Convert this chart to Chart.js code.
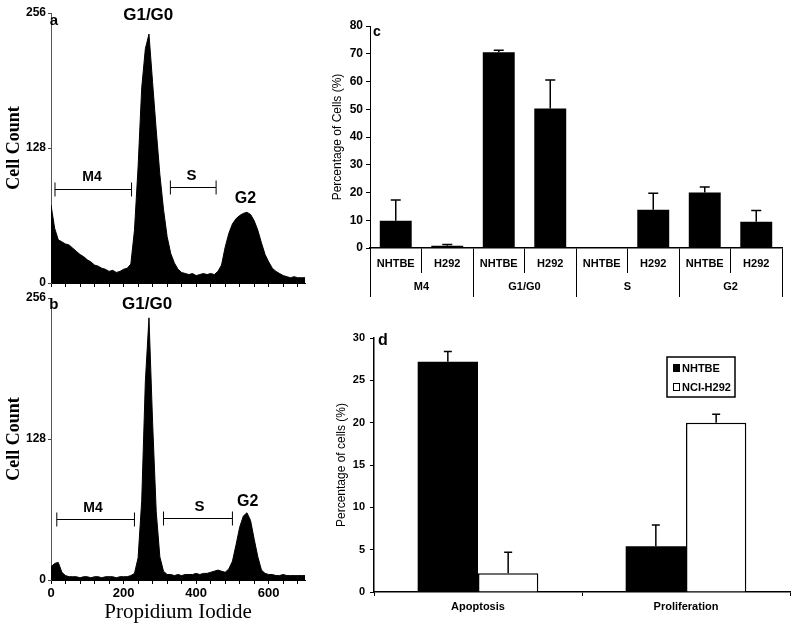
<!DOCTYPE html>
<html><head><meta charset="utf-8">
<script src="https://cdn.jsdelivr.net/npm/chart.js@4.4.1/dist/chart.umd.min.js"></script>
<style>
html,body{margin:0;padding:0;background:#fff;width:800px;height:629px;overflow:hidden;position:relative}
canvas{position:absolute}
</style></head><body>
<canvas id="ca" style="left:0px;top:0px" width="310" height="296"></canvas>
<canvas id="cb" style="left:0px;top:286px" width="310" height="343"></canvas>
<canvas id="cc" style="left:330px;top:0px" width="470" height="300"></canvas>
<canvas id="cd" style="left:330px;top:300px" width="470" height="329"></canvas>
<script>
// ---------- data ----------
const piBins = [0,10,20,30,40,50,60,70,80,90,100,110,120,130,140,150,160,170,180,190,200,210,220,230,240,250,260,270,280,290,300,310,320,330,340,350,360,370,380,390,400,410,420,430,440,450,460,470,480,490,500,510,520,530,540,550,560,570,580,590,600,610,620,630,640,650,660,670,680,690,700];
const countsA = [74,52,41,39,37,36,33,30,27,25,22,20,17,16,14,13,11,12,10,11,13,14,18,50,110,185,222,236,190,145,103,70,44,28,19,13,10,9,8,9,7,8,9,8,9,8,11,17,34,47,56,61,64,66,67,65,59,50,38,27,20,14,11,9,7,6,5,6,5,5,5];
const countsB = [12,15,16,7,4,3,3,3,2,3,3,2,3,3,2,3,3,3,2,3,3,3,4,6,20,72,180,238,143,62,21,8,5,5,4,5,4,5,5,5,6,5,6,6,7,8,9,8,7,10,17,32,48,58,61,54,37,21,9,6,5,5,4,4,5,4,4,4,4,4,4];
const countTicks = [0,128,256];
const gateM4A = [11,222], gateSA = [329,455];
const gateM4B = [16,230], gateSB = [310,500];

const cellLines = ['NHTBE','H292','NHTBE','H292','NHTBE','H292','NHTBE','H292'];
const phaseGroups = ['M4','G1/G0','S','G2'];
const phasePct = [9.8,0.8,70.5,50.3,0.3,13.8,20.0,9.5];
const phasePctErr = [7.5,0.5,0.8,10.2,0,5.9,2.0,4.0];

const assays = ['Apoptosis','Proliferation'];
const nhtbePct = [27.2,5.4];
const nhtbeErr = [1.2,2.5];
const h292Pct = [2.2,20.0];
const h292Err = [2.5,1.0];

// ---------- common ----------
const SANS = '"Liberation Sans", Arial, sans-serif';
const SERIF = '"Liberation Serif", "Times New Roman", serif';
Chart.defaults.font.family = SANS;
Chart.defaults.color = '#000';
Chart.defaults.animation = false;
Chart.defaults.plugins.legend.display = false;
Chart.defaults.plugins.tooltip.enabled = false;

const gatePlugin = {
  id: 'gates',
  afterDatasetsDraw(chart, args, o) {
    const {ctx, scales: {x, y}} = chart;
    ctx.save();
    ctx.strokeStyle = '#000'; ctx.lineWidth = 1;
    (o.gates || []).forEach(g => {
      const x1 = x.getPixelForValue(g.range[0]), x2 = x.getPixelForValue(g.range[1]);
      const yy = Math.round(y.getPixelForValue(g.level)) + 0.5;
      ctx.beginPath();
      ctx.moveTo(x1, yy); ctx.lineTo(x2, yy);
      ctx.moveTo(x1, yy - 7); ctx.lineTo(x1, yy + 7);
      ctx.moveTo(x2, yy - 7); ctx.lineTo(x2, yy + 7);
      ctx.stroke();
    });
    ctx.fillStyle = '#000'; ctx.textAlign = 'center'; ctx.textBaseline = 'middle';
    (o.labels || []).forEach(t => {
      ctx.font = t.font;
      ctx.fillText(t.text, x.getPixelForValue(t.x), y.getPixelForValue(t.y));
    });
    ctx.restore();
  }
};

const textPlugin = {
  id: 'panelText',
  afterDraw(chart, args, o) {
    const ctx = chart.ctx;
    ctx.save();
    ctx.fillStyle = '#000'; ctx.textAlign = 'center'; ctx.textBaseline = 'middle';
    (o.items || []).forEach(t => { ctx.font = t.font; ctx.fillText(t.text, t.x, t.y); });
    ctx.restore();
  }
};

const errPlugin = {
  id: 'errBars',
  afterDatasetsDraw(chart, args, o) {
    const {ctx} = chart;
    const y = chart.scales.y;
    ctx.save();
    ctx.strokeStyle = '#000'; ctx.lineWidth = o.lineWidth || 1.5;
    chart.data.datasets.forEach((ds, di) => {
      if (!ds.errors) return;
      const meta = chart.getDatasetMeta(di);
      meta.data.forEach((bar, i) => {
        const e = ds.errors[i];
        if (!e) return;
        const top = y.getPixelForValue(ds.data[i] + e);
        ctx.beginPath();
        ctx.moveTo(bar.x, bar.y); ctx.lineTo(bar.x, top);
        ctx.moveTo(bar.x - o.cap, top); ctx.lineTo(bar.x + o.cap, top);
        ctx.stroke();
      });
    });
    ctx.restore();
  }
};

const boxLegend = {
  id: 'boxLegend',
  afterDraw(chart, args, o) {
    const {ctx} = chart;
    ctx.save();
    ctx.strokeStyle = '#000'; ctx.lineWidth = 1.5;
    ctx.strokeRect(o.x, o.y, o.w, o.h);
    ctx.font = 'bold 11px ' + SANS; ctx.textBaseline = 'middle'; ctx.textAlign = 'left';
    chart.data.datasets.forEach((ds, i) => {
      const yy = o.y + o.first + i * o.row;
      ctx.fillStyle = ds.backgroundColor;
      ctx.fillRect(o.x + 6, yy - 3.5, 7, 7);
      ctx.lineWidth = 1; ctx.strokeRect(o.x + 6.5, yy - 3.5, 6, 7);
      ctx.fillStyle = '#000';
      ctx.fillText(ds.label, o.x + 15, yy + 0.5);
    });
    ctx.restore();
  }
};

function histChart(id, counts, opts) {
  return new Chart(document.getElementById(id), {
    type: 'line',
    data: {
      datasets: [{
        data: piBins.map((b, i) => ({x: b, y: counts[i]})),
        fill: 'origin', backgroundColor: '#000', borderColor: '#000',
        borderWidth: 1, pointRadius: 0, tension: 0
      }]
    },
    options: {
      responsive: false, devicePixelRatio: 1,
      layout: {padding: {top: opts.padTop, right: 5, left: 0, bottom: 0}},
      scales: {
        x: {
          type: 'linear', min: 0, max: 700,
          grid: {drawOnChartArea: false, tickLength: 4, color: '#000'},
          border: {color: '#000', width: 1},
          ticks: {stepSize: 40, includeBounds: false, autoSkip: false, maxRotation: 0,
            padding: 2, font: {size: 13, weight: 'bold'}, color: '#000',
            callback: opts.xLabels ? (v => (v % 200 === 0 ? String(v) : '')) : (() => '')},
          title: opts.xLabels ? {display: true, text: 'Propidium Iodide', color: '#000',
            font: {family: SERIF, size: 21, weight: 'normal'}, padding: {top: 0, bottom: 4}} : {display: false},
          afterFit(s) { s.height = opts.xHeight; }
        },
        y: {
          min: 0, max: 256,
          afterBuildTicks(s) { s.ticks = countTicks.map(v => ({value: v})); },
          grid: {drawOnChartArea: false, tickLength: 3, color: '#444'},
          border: {color: '#555', width: 1},
          ticks: {font: {size: 12, weight: 'bold'}, color: '#000', padding: 2},
          title: {display: true, text: 'Cell Count', color: '#000',
            font: {family: SERIF, size: 18, weight: 'bold'}, padding: {top: 4, bottom: 0}},
          afterFit(s) { s.width = 51; }
        }
      },
      plugins: {gates: {gates: opts.gates, labels: opts.labels}}
    },
    plugins: [gatePlugin]
  });
}

histChart('ca', countsA, {
  padTop: 13, xHeight: 13, xLabels: false,
  gates: [{range: gateM4A, level: 89}, {range: gateSA, level: 91}],
  labels: [
    {text: 'a', x: 8, y: 249, font: 'bold 15px ' + SANS},
    {text: 'G1/G0', x: 268, y: 254, font: 'bold 17px ' + SANS},
    {text: 'M4', x: 113, y: 100, font: 'bold 14px ' + SANS},
    {text: 'S', x: 387, y: 102, font: 'bold 15px ' + SANS},
    {text: 'G2', x: 536, y: 80, font: 'bold 16px ' + SANS}
  ]
});

histChart('cb', countsB, {
  padTop: 12, xHeight: 49, xLabels: true,
  gates: [{range: gateM4B, level: 55}, {range: gateSB, level: 56}],
  labels: [
    {text: 'b', x: 8, y: 250, font: 'bold 15px ' + SANS},
    {text: 'G1/G0', x: 265, y: 250, font: 'bold 17px ' + SANS},
    {text: 'M4', x: 116, y: 65, font: 'bold 14px ' + SANS},
    {text: 'S', x: 409, y: 66, font: 'bold 15px ' + SANS},
    {text: 'G2', x: 542, y: 71, font: 'bold 16px ' + SANS}
  ]
});

// ---------- panel c ----------
new Chart(document.getElementById('cc'), {
  type: 'bar',
  data: {
    labels: cellLines,
    datasets: [{data: phasePct, errors: phasePctErr, backgroundColor: '#000', borderWidth: 0,
      categoryPercentage: 1, barPercentage: 0.62, xAxisID: 'x'}]
  },
  options: {
    responsive: false, devicePixelRatio: 1,
    layout: {padding: {top: 26, right: 18, bottom: 3, left: 0}},
    scales: {
      y: {
        min: 0, max: 80,
        ticks: {stepSize: 10, font: {size: 12, weight: 'bold'}, color: '#000', padding: 3},
        grid: {drawOnChartArea: false, tickLength: 4, color: '#000'},
        border: {color: '#000', width: 1},
        title: {display: true, text: 'Percentage of Cells (%)', color: '#000',
          font: {size: 12}, padding: {top: 0, bottom: 0}},
        afterFit(s) { s.width = 40; }
      },
      x: {
        type: 'category', offset: true, weight: 0,
        grid: {offset: true, drawOnChartArea: false, tickLength: 25, color: '#000'},
        border: {color: '#000', width: 1.5},
        ticks: {padding: -16, autoSkip: false, maxRotation: 0, font: {size: 11, weight: 'bold'}, color: '#000'},
        afterFit(s) { s.height = 25; }
      },
      x2: {
        type: 'category', labels: phaseGroups, position: 'bottom', offset: true, weight: 1,
        grid: {offset: true, drawOnChartArea: false, tickLength: 24, color: '#000'},
        border: {display: false},
        ticks: {padding: -17, autoSkip: false, maxRotation: 0, font: {size: 11, weight: 'bold'}, color: '#000'},
        afterFit(s) { s.height = 24; }
      }
    },
    plugins: {
      errBars: {cap: 5, lineWidth: 1.5},
      panelText: {items: [{text: 'c', x: 47, y: 32, font: 'bold 14px ' + SANS}]}
    }
  },
  plugins: [errPlugin, textPlugin]
});

// ---------- panel d ----------
new Chart(document.getElementById('cd'), {
  type: 'bar',
  data: {
    labels: assays,
    datasets: [
      {label: 'NHTBE', data: nhtbePct, errors: nhtbeErr, backgroundColor: '#000', borderColor: '#000', borderWidth: 0},
      {label: 'NCI-H292', data: h292Pct, errors: h292Err, backgroundColor: '#fff', borderColor: '#000', borderWidth: 1.5}
    ]
  },
  options: {
    responsive: false, devicePixelRatio: 1,
    layout: {padding: {top: 38, right: 10, bottom: 0, left: 0}},
    datasets: {bar: {categoryPercentage: 0.58, barPercentage: 1}},
    scales: {
      y: {
        min: 0, max: 30,
        ticks: {stepSize: 5, font: {size: 11, weight: 'bold'}, color: '#000', padding: 5},
        grid: {drawOnChartArea: false, tickLength: 4, color: '#000'},
        border: {color: '#000', width: 1.5},
        title: {display: true, text: 'Percentage of cells (%)', color: '#000',
          font: {size: 12}, padding: {top: 4, bottom: 0}},
        afterFit(s) { s.width = 44; }
      },
      x: {
        type: 'category', offset: true,
        grid: {offset: true, drawOnChartArea: false, tickLength: 4, color: '#000'},
        border: {color: '#000', width: 1.5},
        ticks: {padding: 4, autoSkip: false, maxRotation: 0, font: {size: 11, weight: 'bold'}, color: '#000'},
        afterFit(s) { s.height = 37; }
      }
    },
    plugins: {
      errBars: {cap: 4, lineWidth: 1.5},
      boxLegend: {x: 337, y: 57, w: 68, h: 40, first: 11, row: 19},
      panelText: {items: [{text: 'd', x: 53, y: 41, font: 'bold 16px ' + SANS}]}
    }
  },
  plugins: [errPlugin, textPlugin, boxLegend]
});
</script>
</body></html>
